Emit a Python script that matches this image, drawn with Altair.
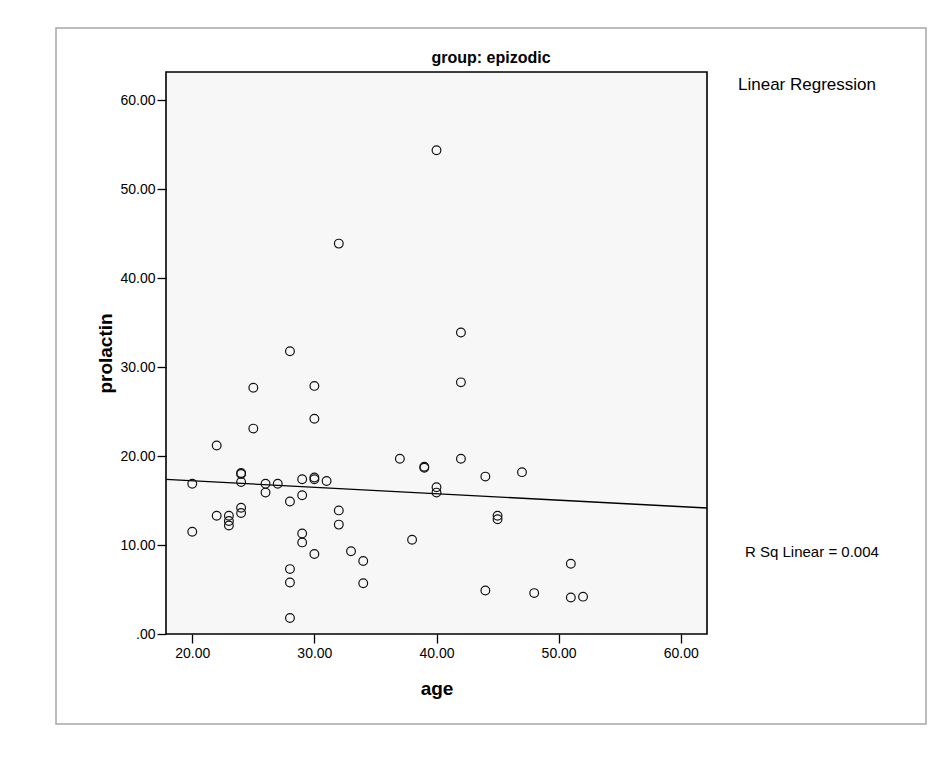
import altair as alt
import pandas as pd

# ---- data ----
age = [20, 20, 22, 22, 23, 23, 23, 24, 24, 24, 24, 24, 25, 25, 26, 26, 27,
       28, 28, 28, 28, 28, 29, 29, 29, 29, 30, 30, 30, 30, 30, 31, 32, 32, 32,
       33, 34, 34, 37, 38, 39, 39, 40, 40, 40, 42, 42, 42, 44, 44, 45, 45, 47,
       48, 51, 51, 52]
prolactin = [16.9, 11.5, 21.2, 13.3, 13.3, 12.7, 12.2, 18.1, 18.0, 17.1, 14.2,
             13.6, 27.7, 23.1, 16.9, 15.9, 16.9, 31.8, 14.9, 7.3, 5.8, 1.8,
             17.4, 15.6, 11.3, 10.3, 27.9, 24.2, 17.6, 17.4, 9.0, 17.2, 43.9,
             13.9, 12.3, 9.3, 8.2, 5.7, 19.7, 10.6, 18.8, 18.7, 54.4, 16.5,
             15.9, 33.9, 28.3, 19.7, 17.7, 4.9, 13.3, 12.9, 18.2, 4.6, 7.9,
             4.1, 4.2]
x_ticks = [20, 30, 40, 50, 60]
y_ticks = [0, 10, 20, 30, 40, 50, 60]
x_domain = [17.85, 62.15]
y_domain = [0, 63.2]
title_text = "group: epizodic"
legend_text = "Linear Regression"
rsq_text = "R Sq Linear = 0.004"

df = pd.DataFrame({"age": age, "prolactin": prolactin})
one = pd.DataFrame({"k": [0]})

FONT = "Liberation Sans"
LBL = "datum.value == 0 ? '.00' : format(datum.value, '.2f')"

x_enc = alt.X("age:Q",
              scale=alt.Scale(domain=x_domain, nice=False, zero=False),
              axis=alt.Axis(values=x_ticks, title="age", labelExpr=LBL,
                            grid=False, domain=False, tickColor="black",
                            tickSize=9, tickWidth=1.3, labelColor="black",
                            labelFont=FONT, labelFontSize=14, labelPadding=3,
                            titleFont=FONT, titleFontSize=19,
                            titleFontWeight="bold", titleColor="black",
                            titleX=270.5, titleY=54, titleBaseline="middle",
                            titleAlign="center"))
y_enc = alt.Y("prolactin:Q",
              scale=alt.Scale(domain=y_domain, nice=False, zero=False),
              axis=alt.Axis(values=y_ticks, title="prolactin", labelExpr=LBL,
                            grid=False, domain=False, tickColor="black",
                            tickSize=9, tickWidth=1.3, labelColor="black",
                            labelFont=FONT, labelFontSize=14, labelPadding=2,
                            titleFont=FONT, titleFontSize=19,
                            titleFontWeight="bold", titleColor="black",
                            titleX=-61, titleY=281, titleBaseline="middle",
                            titleAlign="center", titleAngle=270))

points = alt.Chart(df).mark_point(
    shape="circle", filled=False, color="#111111", size=76, strokeWidth=1.2, opacity=1
).encode(x=x_enc, y=y_enc)

fit = alt.Chart(df).transform_regression(
    "age", "prolactin", extent=x_domain
).mark_line(color="black", strokeWidth=1.3).encode(
    x=alt.X("age:Q"), y=alt.Y("prolactin:Q")
)

outer = alt.Chart(one).mark_rect(
    fill=None, stroke="#a6a6a6", strokeWidth=1.5
).encode(x=alt.value(-110), x2=alt.value(760), y=alt.value(-44), y2=alt.value(652))

ttl = alt.Chart(one).mark_text(
    text=title_text, align="center", baseline="middle", font=FONT, fontSize=16,
    fontWeight="bold", color="black"
).encode(x=alt.value(325), y=alt.value(-14))

leg = alt.Chart(one).mark_text(
    text=legend_text, align="left", baseline="middle", font=FONT, fontSize=17, color="black"
).encode(x=alt.value(572), y=alt.value(13))

rsq = alt.Chart(one).mark_text(
    text=rsq_text, align="left", baseline="middle", font=FONT, fontSize=15, color="black"
).encode(x=alt.value(579), y=alt.value(480))

chart = alt.layer(outer, fit, points, ttl, leg, rsq).properties(
    width=541, height=562,
    background="white",
    autosize=alt.AutoSizeParams(type="none"),
    padding={"left": 166, "top": 72, "right": 238, "bottom": 138},
).configure_view(
    fill="#f7f7f7", stroke="black", strokeWidth=1.6
)

chart.save("out.html", embed_options={"renderer": "svg", "actions": False})
